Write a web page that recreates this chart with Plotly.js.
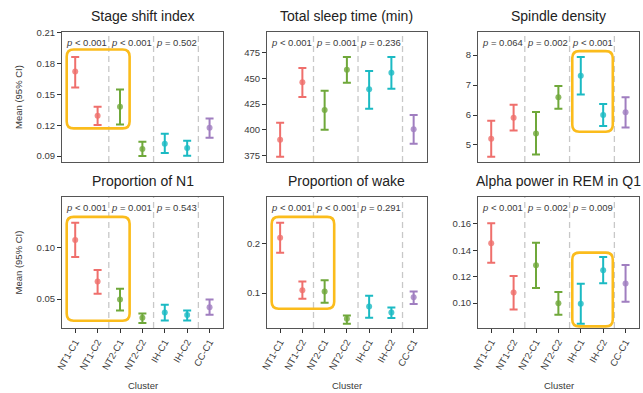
<!DOCTYPE html>
<html><head><meta charset="utf-8">
<script src="https://cdn.plot.ly/plotly-3.0.1.min.js"></script>
<style>html,body{margin:0;padding:0;background:#fff}</style>
</head><body><div id="chart" style="width:643px;height:393px"></div>
<script>
// ---- data ----
const categories = ['NT1-C1','NT1-C2','NT2-C1','NT2-C2','IH-C1','IH-C2','CC-C1'];
const categoryColors = ['#EF6F6C','#EF6F6C','#6FA83A','#6FA83A','#1BBAC3','#1BBAC3','#A07EC0'];
const panelTitles = ['Stage shift index','Total sleep time (min)','Spindle density','Proportion of N1','Proportion of wake','Alpha power in REM in Q1'];

const stageShiftMean = [0.1722,0.1291,0.1379,0.0968,0.1020,0.0978,0.1175];
const stageShiftLo   = [0.1567,0.1201,0.1208,0.0900,0.0929,0.0903,0.1078];
const stageShiftHi   = [0.1864,0.1379,0.1548,0.1039,0.1117,0.1049,0.1266];

const sleepTimeMean = [390.2,446.2,419.2,458.4,439.3,455.5,400.3];
const sleepTimeLo   = [373.6,431.8,400.0,445.8,420.4,439.9,386.3];
const sleepTimeHi   = [406.8,460.1,438.0,470.8,457.2,470.8,414.3];

const spindleMean = [5.21,5.91,5.38,6.59,7.31,6.00,6.09];
const spindleLo   = [4.61,5.48,4.68,6.21,6.68,5.63,5.58];
const spindleHi   = [5.81,6.34,6.10,6.97,7.93,6.37,6.59];

const n1Mean = [0.1075,0.0671,0.0497,0.0319,0.0371,0.0345,0.0422];
const n1Lo   = [0.0910,0.0552,0.0390,0.0267,0.0293,0.0293,0.0348];
const n1Hi   = [0.1243,0.0784,0.0600,0.0361,0.0445,0.0390,0.0497];

const wakeMean = [0.2113,0.1060,0.1033,0.0487,0.0733,0.0613,0.0920];
const wakeLo   = [0.1813,0.0887,0.0807,0.0387,0.0507,0.0500,0.0780];
const wakeHi   = [0.2413,0.1233,0.1260,0.0553,0.0947,0.0713,0.1033];

const alphaMean = [0.1454,0.1080,0.1286,0.1000,0.0995,0.1248,0.1148];
const alphaLo   = [0.1306,0.0952,0.1115,0.0912,0.0844,0.1151,0.1010];
const alphaHi   = [0.1605,0.1206,0.1457,0.1085,0.1146,0.1349,0.1289];

const stageShiftP = ['< 0.001','< 0.001','= 0.502'];
const sleepTimeP  = ['< 0.001','= 0.001','= 0.236'];
const spindleP    = ['= 0.064','= 0.002','< 0.001'];
const n1P         = ['< 0.001','= 0.001','= 0.543'];
const wakeP       = ['< 0.001','< 0.001','= 0.291'];
const alphaP      = ['< 0.001','= 0.002','= 0.009'];

// highlighted comparisons: panel index, first/last category, y span
const highlightPanel = [0,2,3,4,5];
const highlightCats  = [[0,2],[4,5],[0,2],[0,2],[4,5]];
const highlightY     = [[0.1169,0.1936],[5.44,8.13],[0.029,0.1301],[0.0687,0.2533],[0.0824,0.1382]];

// ---- configuration ----
const panels = [
  {mean: stageShiftMean, lo: stageShiftLo, hi: stageShiftHi, p: stageShiftP, range:[0.0842,0.2107], tickvals:[0.09,0.12,0.15,0.18,0.21], fmt:'.2f'},
  {mean: sleepTimeMean, lo: sleepTimeLo, hi: sleepTimeHi, p: sleepTimeP, range:[368.5,495.2], tickvals:[375,400,425,450,475], fmt:'d'},
  {mean: spindleMean, lo: spindleLo, hi: spindleHi, p: spindleP, range:[4.433,8.767], tickvals:[5,6,7,8], fmt:'d'},
  {mean: n1Mean, lo: n1Lo, hi: n1Hi, p: n1P, range:[0.0219,0.1494], tickvals:[0.05,0.10], fmt:'.2f'},
  {mean: wakeMean, lo: wakeLo, hi: wakeHi, p: wakeP, range:[0.030,0.2933], tickvals:[0.1,0.2], fmt:'.1f'},
  {mean: alphaMean, lo: alphaLo, hi: alphaHi, p: alphaP, range:[0.0812,0.1803], tickvals:[0.10,0.12,0.14,0.16], fmt:'.2f'}
];

const W = 643, H = 393;
const colPx = [[62,223],[267,427],[478,639]];
const rowPx = [[32,162],[197,328]];
const xRange = [-0.59, 6.6];
const FONT = 'Liberation Sans, Arial, sans-serif';
const TXT = '#3a3a3a';

const xIdx = categories.map((c,i)=>i);
const traces = [];
const layout = {
  width: W, height: H, margin:{l:0,r:0,t:0,b:0},
  paper_bgcolor:'#ffffff', plot_bgcolor:'#ffffff',
  showlegend:false, font:{family:FONT, size:10, color:TXT},
  annotations:[], shapes:[]
};

panels.forEach((pn, k) => {
  const col = k % 3, row = Math.floor(k / 3);
  const sfx = k === 0 ? '' : String(k+1);
  const xa = 'x' + sfx, ya = 'y' + sfx;
  const xd = [colPx[col][0]/W, colPx[col][1]/W];
  const yd = [1 - rowPx[row][1]/H, 1 - rowPx[row][0]/H];
  layout['xaxis' + sfx] = {
    domain: xd, anchor: ya, range: xRange, type:'linear',
    tickvals: xIdx, ticktext: categories,
    showticklabels: row === 1, ticks: row === 1 ? 'outside' : '',
    ticklen: 4, tickwidth: 1, tickcolor: '#333',
    tickangle: -60, tickfont:{size:9.5, color:TXT, family:FONT},
    showgrid:false, zeroline:false, showline:true, mirror:true, linecolor:'#555', linewidth:1
  };
  layout['yaxis' + sfx] = {
    domain: yd, anchor: xa, range: pn.range, tickvals: pn.tickvals, tickformat: pn.fmt,
    ticks:'outside', ticklen:4, tickwidth:1, tickcolor:'#333',
    tickfont:{size:9.5, color:TXT, family:FONT},
    showgrid:false, zeroline:false, showline:true, mirror:true, linecolor:'#555', linewidth:1
  };
  // dashed separators
  [1.5, 3.5, 5.5].forEach(xv => layout.shapes.push({
    type:'line', xref: xa, yref: ya + ' domain', x0: xv, x1: xv, y0: 0, y1: 1,
    line:{color:'#c8c8c8', width:1.3, dash:'6px,4px'}, layer:'below'
  }));
  // points + CI
  xIdx.forEach(i => {
    traces.push({
      type:'scatter', mode:'markers', xaxis: xa, yaxis: ya,
      x:[i], y:[pn.mean[i]],
      marker:{color: categoryColors[i], size:6, opacity:0.8},
      error_y:{type:'data', symmetric:false, array:[pn.hi[i]-pn.mean[i]], arrayminus:[pn.mean[i]-pn.lo[i]],
               color: categoryColors[i], thickness:2, width:4},
      hoverinfo:'skip'
    });
  });
  // p-values
  [-0.5, 1.5, 3.5].forEach((xv, g) => layout.annotations.push({
    xref: xa, yref: ya + ' domain', x: xv, y: 1, xanchor:'left', yanchor:'top', yshift:-3,
    text: '<i>p</i> ' + pn.p[g].replace('<','&lt;'), showarrow:false,
    font:{size:9.5, color:TXT, family:FONT}
  }));
  // title
  layout.annotations.push({
    xref:'paper', yref:'paper', x:(xd[0]+xd[1])/2, y: 1 - (rowPx[row][0]-16)/H,
    xanchor:'center', yanchor:'middle', text: panelTitles[k], showarrow:false,
    font:{size:14, color:'#222', family:FONT}
  });
  if (col === 0) layout.annotations.push({
    xref:'paper', yref:'paper', x: 18/W, y:(yd[0]+yd[1])/2, xanchor:'center', yanchor:'middle',
    textangle:-90, text:'Mean (95% CI)', showarrow:false, font:{size:9.5, color:TXT, family:FONT}
  });
  if (row === 1) layout.annotations.push({
    xref:'paper', yref:'paper', x:(xd[0]+xd[1])/2, y: 1 - 385/H, xanchor:'center', yanchor:'middle',
    text:'Cluster', showarrow:false, font:{size:9.5, color:TXT, family:FONT}
  });
});

// rounded highlight boxes
highlightPanel.forEach((k, j) => {
  const col = k % 3, row = Math.floor(k / 3);
  const sfx = k === 0 ? '' : String(k+1);
  const pn = panels[k];
  const pxX = (colPx[col][1]-colPx[col][0]) / (xRange[1]-xRange[0]);
  const pxY = (rowPx[row][1]-rowPx[row][0]) / (pn.range[1]-pn.range[0]);
  const r = 7, rx = r/pxX, ry = r/pxY;
  const x0 = highlightCats[j][0] - 0.38, x1 = highlightCats[j][1] + 0.43;
  const y0 = highlightY[j][0], y1 = highlightY[j][1];
  const path = `M ${x0+rx},${y0} L ${x1-rx},${y0} Q ${x1},${y0} ${x1},${y0+ry} L ${x1},${y1-ry} Q ${x1},${y1} ${x1-rx},${y1} ` +
               `L ${x0+rx},${y1} Q ${x0},${y1} ${x0},${y1-ry} L ${x0},${y0+ry} Q ${x0},${y0} ${x0+rx},${y0} Z`;
  layout.shapes.push({type:'path', xref:'x'+sfx, yref:'y'+sfx, path, line:{color:'#FBBC1C', width:2.6}, layer:'above'});
});

Plotly.newPlot('chart', traces, layout, {staticPlot:true, displayModeBar:false});
</script></body></html>
